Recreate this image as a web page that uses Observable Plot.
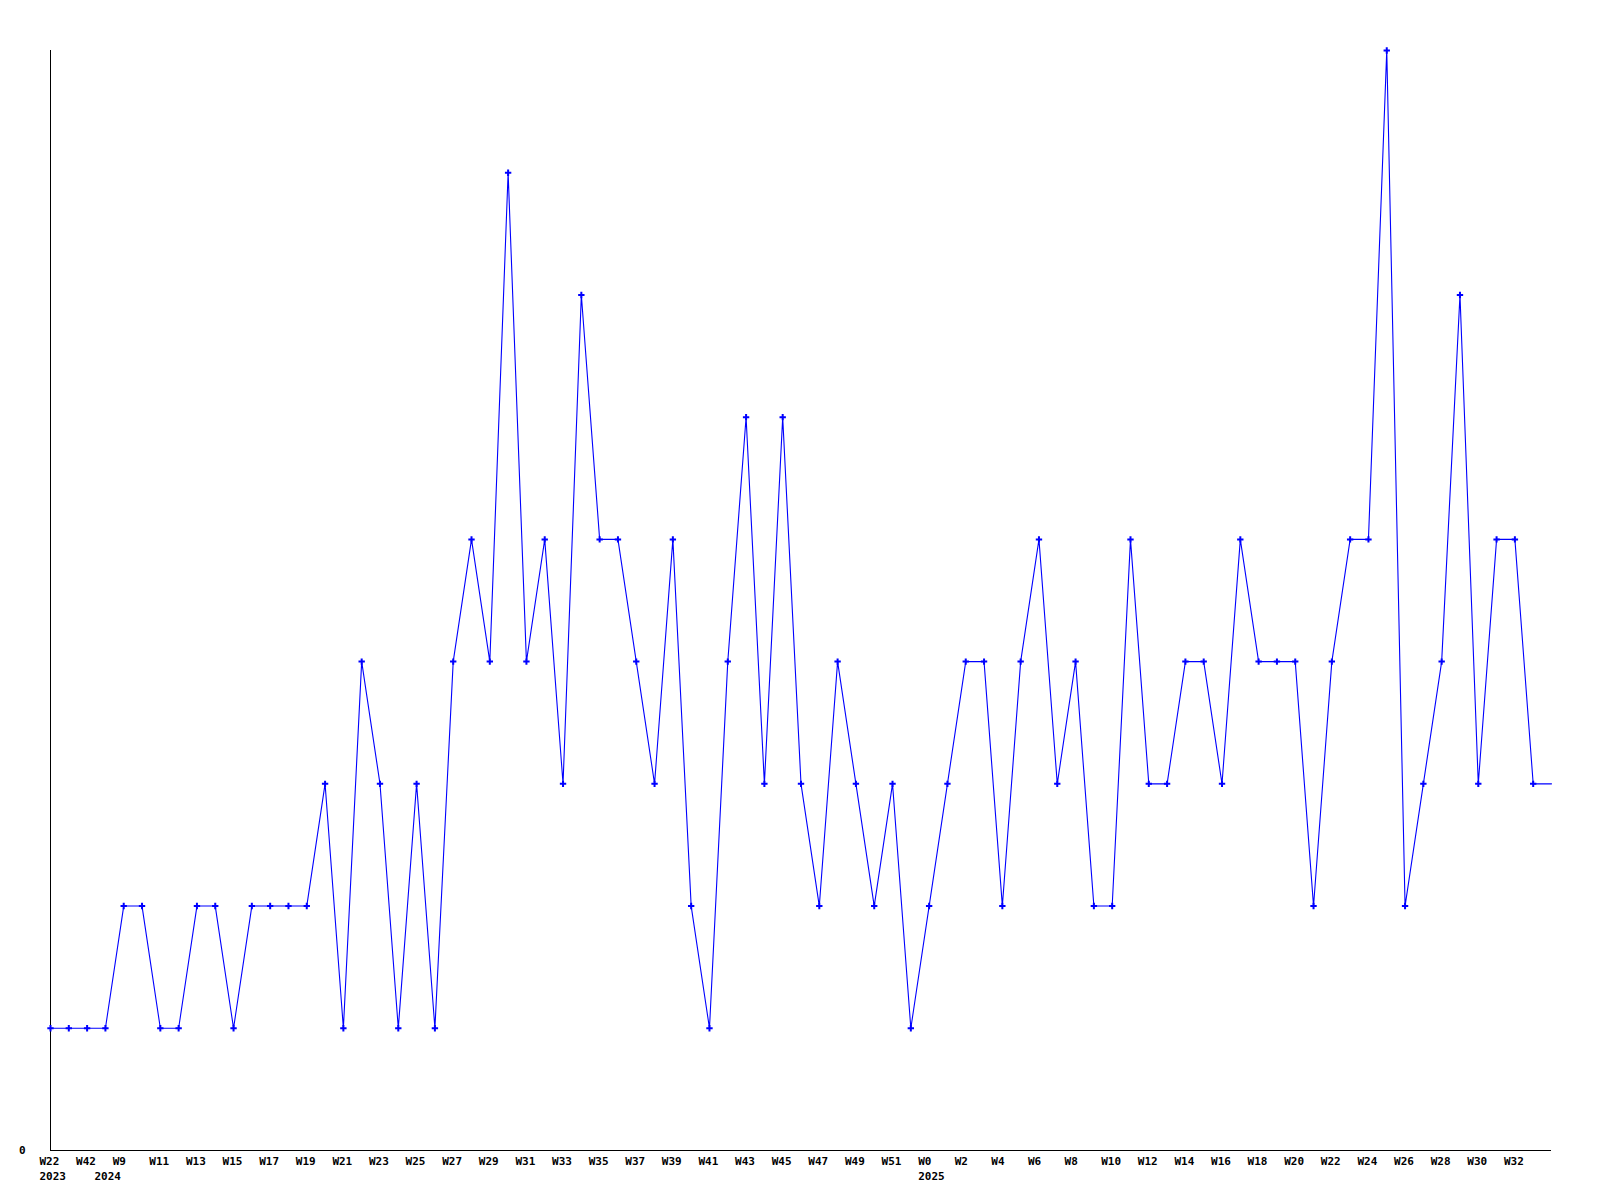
<!DOCTYPE html>
<html>
<head>
<meta charset="utf-8">
<script src="https://cdn.jsdelivr.net/npm/d3@7"></script>
<script src="https://cdn.jsdelivr.net/npm/@observablehq/plot@0.6"></script>
<style>
  html, body { margin: 0; padding: 0; background: #fff; }
  #chart svg { display: block; }
</style>
</head>
<body>
<div id="chart"></div>
<script>
// Week labels (one per point), years, and counts
const weeks = [
  "W22","W31","W42","W8","W9","W10","W11","W12","W13","W14","W15","W16","W17","W18","W19","W20",
  "W21","W22","W23","W24","W25","W26","W27","W28","W29","W30","W31","W32","W33","W34","W35","W36",
  "W37","W38","W39","W40","W41","W42","W43","W44","W45","W46","W47","W48","W49","W50","W51","W52",
  "W0","W1","W2","W3","W4","W5","W6","W7","W8","W9","W10","W11","W12","W13","W14","W15",
  "W16","W17","W18","W19","W20","W21","W22","W23","W24","W25","W26","W27","W28","W29","W30","W31",
  "W32","W33","W34"
];
const years = [
  2023,2023,2023,2024,2024,2024,2024,2024,2024,2024,2024,2024,2024,2024,2024,2024,
  2024,2024,2024,2024,2024,2024,2024,2024,2024,2024,2024,2024,2024,2024,2024,2024,
  2024,2024,2024,2024,2024,2024,2024,2024,2024,2024,2024,2024,2024,2024,2024,2024,
  2025,2025,2025,2025,2025,2025,2025,2025,2025,2025,2025,2025,2025,2025,2025,2025,
  2025,2025,2025,2025,2025,2025,2025,2025,2025,2025,2025,2025,2025,2025,2025,2025,
  2025,2025,2025
];
const counts = [
  1,1,1,1,2,2,1,1,2,2,1,2,2,2,2,3,
  1,4,3,1,3,1,4,5,4,8,4,5,3,7,5,5,
  4,3,5,2,1,4,6,3,6,3,2,4,3,2,3,1,
  2,3,4,4,2,4,5,3,4,2,2,5,3,3,4,4,
  3,5,4,4,4,2,4,5,5,9,2,3,4,7,3,5,
  5,3,3
];

const data = counts.map((v, i) => ({i, v, week: weeks[i], year: years[i]}));
const evenTicks = data.filter(d => d.i % 2 === 0 && d.i < data.length - 1).map(d => d.i);
const yearTicks = data.filter((d, k) => k === 0 || years[k - 1] !== d.year).map(d => d.i);
const marked = data.slice(0, data.length - 1);

const font = "'DejaVu Sans Mono', monospace";

const chart = Plot.plot({
  width: 1600,
  height: 1200,
  marginLeft: 50,
  marginRight: 49,
  marginTop: 50,
  marginBottom: 50,
  style: {fontFamily: font, fontSize: "11px", fontWeight: "bold", color: "#000", background: "#fff"},
  x: {domain: [0, counts.length - 1], axis: null, label: null},
  y: {domain: [0, d3.max(counts)], axis: null, label: null},
  marks: [
    Plot.ruleX([0], {stroke: "#000", strokeWidth: 1}),
    Plot.ruleY([0], {stroke: "#000", strokeWidth: 1}),
    Plot.axisY({ticks: [0], tickSize: 0, tickPadding: 25, tickFormat: d => String(d), label: null, fontWeight: "bold"}),
    Plot.axisX({ticks: evenTicks, tickSize: 0, tickPadding: 7, textAnchor: "start", dx: -11,
      tickFormat: i => weeks[i], label: null, fontWeight: "bold"}),
    Plot.axisX({ticks: yearTicks, tickSize: 0, tickPadding: 22, textAnchor: "start", dx: -11,
      tickFormat: i => String(years[i]), label: null, fontWeight: "bold"}),
    Plot.line(data, {x: "i", y: "v", stroke: "#0000ff", strokeWidth: 1.1}),
    Plot.dot(marked, {x: "i", y: "v", symbol: "plus", stroke: "#0000ff", strokeWidth: 2, r: 2.2})
  ]
});
document.getElementById("chart").append(chart);
</script>
</body>
</html>
